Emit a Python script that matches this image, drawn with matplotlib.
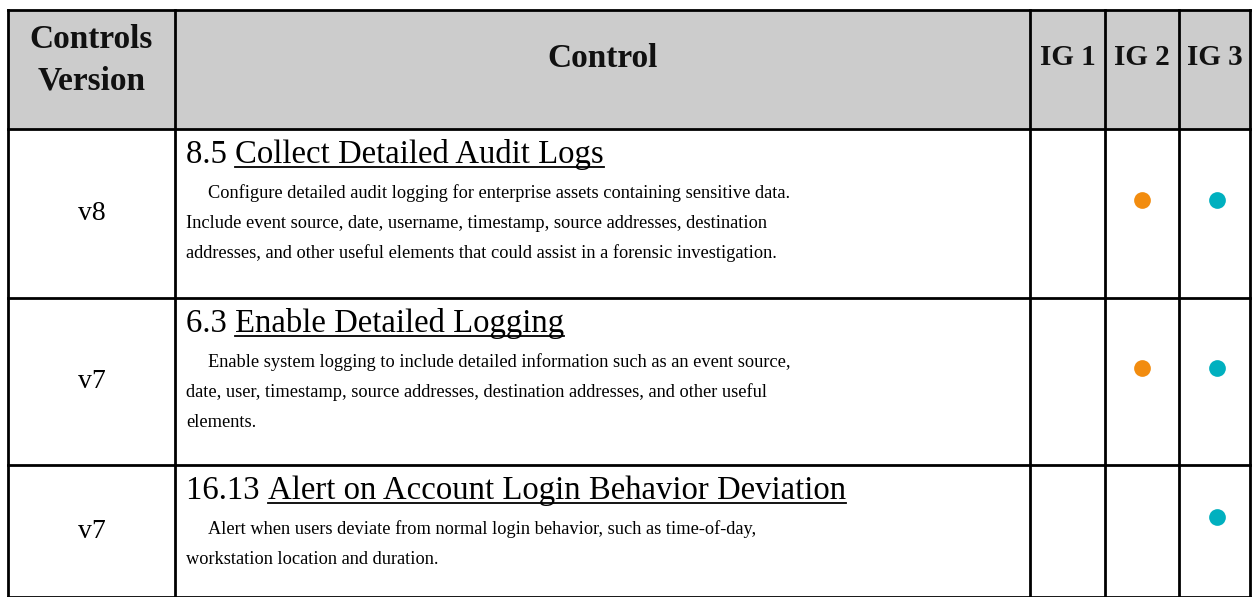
import matplotlib
matplotlib.use('Agg')
import matplotlib.pyplot as plt
from matplotlib.patches import Rectangle

# table content
header = ['Controls\nVersion', 'Control', 'IG 1', 'IG 2', 'IG 3']
versions = ['v8', 'v7', 'v7']
control_ids = ['8.5', '6.3', '16.13']
control_titles = [
    'Collect Detailed Audit Logs',
    'Enable Detailed Logging',
    'Alert on Account Login Behavior Deviation',
]
descriptions = [
    ['Configure detailed audit logging for enterprise assets containing sensitive data.',
     'Include event source, date, username, timestamp, source addresses, destination',
     'addresses, and other useful elements that could assist in a forensic investigation.'],
    ['Enable system logging to include detailed information such as an event source,',
     'date, user, timestamp, source addresses, destination addresses, and other useful',
     'elements.'],
    ['Alert when users deviate from normal login behavior, such as time-of-day,',
     'workstation location and duration.'],
]
ig1 = [False, False, False]
ig2 = [True, True, False]
ig3 = [True, True, True]

W, H = 1252, 597
col_edges = [8, 175, 1030, 1105, 1179, 1250]
row_edges = [10, 129, 298, 465, 597]
SERIF = 'Liberation Serif'

fig = plt.figure(figsize=(W / 100, H / 100), dpi=100)
ax = fig.add_axes([0, 0, 1, 1])
ax.set_xlim(0, W)
ax.set_ylim(H, 0)
ax.axis('off')

# header background
ax.add_patch(Rectangle((col_edges[0], row_edges[0]), col_edges[-1] - col_edges[0],
                       row_edges[1] - row_edges[0], facecolor='#cccccc', edgecolor='none'))

# grid lines
for x in col_edges:
    ax.plot([x, x], [row_edges[0], row_edges[-1] + 5], color='black', lw=2, solid_capstyle='projecting')
for y in row_edges:
    ax.plot([col_edges[0], col_edges[-1]], [y, y], color='black', lw=2, solid_capstyle='projecting')

centers = [(col_edges[i] + col_edges[i + 1]) / 2 for i in range(5)]
for i, h in enumerate(header):
    size = 24 if i < 2 else 21
    lines = h.split('\n')
    if len(lines) == 1:
        base = 67 if i == 1 else 65
        ax.text(centers[i], base, h, ha='center', va='baseline', fontsize=size,
                fontweight='bold', family=SERIF, color='#111111')
    else:
        for k, ln in enumerate(lines):
            ax.text(centers[i], 48 + 41 * k, ln, ha='center', va='baseline', fontsize=size,
                    fontweight='bold', family=SERIF, color='#111111')

fig.canvas.draw()
renderer = fig.canvas.get_renderer()
inv = ax.transData.inverted()

orange, teal = '#f28c0f', '#00b0bf'
for r in range(len(versions)):
    top, bot = row_edges[r + 1], row_edges[r + 2]
    mid = (top + bot) / 2
    ax.text(centers[0], mid, versions[r], ha='center', va='center', fontsize=20, family=SERIF)

    x0 = col_edges[1] + 11
    base = top + 34
    t1 = ax.text(x0, base, control_ids[r] + ' ', ha='left', va='baseline',
                 fontsize=23.6, family=SERIF)
    bb = t1.get_window_extent(renderer)
    xa = inv.transform((bb.x1, bb.y0))[0]
    t2 = ax.text(xa, base, control_titles[r], ha='left', va='baseline',
                 fontsize=23.6, family=SERIF)
    bb2 = t2.get_window_extent(renderer)
    ux0 = inv.transform((bb2.x0, bb2.y0))[0]
    ux1 = inv.transform((bb2.x1, bb2.y0))[0]
    ax.plot([ux0, ux1], [base + 3.5, base + 3.5], color='black', lw=1.3)

    for k, line in enumerate(descriptions[r]):
        indent = 22 if k == 0 else 0
        ax.text(x0 + indent, top + 69 + 30 * k, line, ha='left', va='baseline',
                fontsize=13.2, family=SERIF)

    dy = mid - 14
    if ig1[r]:
        ax.scatter(centers[2], dy, s=145, color=orange, zorder=3, linewidths=0)
    if ig2[r]:
        ax.scatter(centers[3], dy, s=145, color=orange, zorder=3, linewidths=0)
    if ig3[r]:
        ax.scatter(centers[4] + 2, dy, s=145, color=teal, zorder=3, linewidths=0)

fig.savefig('out.png', dpi=100)
